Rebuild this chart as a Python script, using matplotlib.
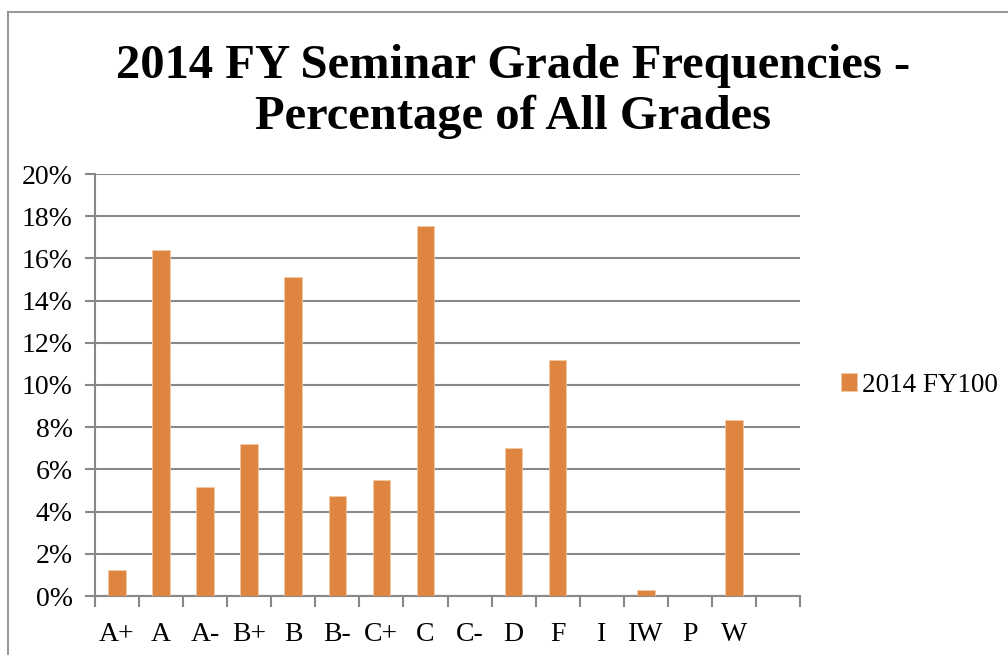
import numpy as np
import matplotlib
matplotlib.use("Agg")
import matplotlib.pyplot as plt
from matplotlib.lines import Line2D

# valores
grades = ["A+", "A", "A-", "B+", "B", "B-", "C+", "C", "C-", "D", "F", "I", "IW", "P", "W", ""]
pct = [1.25, 16.4, 5.15, 7.2, 15.1, 4.75, 5.5, 17.55, 0, 7.0, 11.2, 0, 0.3, 0, 8.35, 0]
yticks = [0, 2, 4, 6, 8, 10, 12, 14, 16, 18, 20]
series_name = "2014 FY100"
title = "2014 FY Seminar Grade Frequencies -\nPercentage of All Grades"

plt.rcParams['font.family'] = ['Liberation Serif', 'DejaVu Serif']
grid_col = "#888888"
bar_col = "#DD8541"

fig = plt.figure(figsize=(10.08, 6.55), dpi=100)
ax = fig.add_axes([95/1008, 59/655, 705/1008, 422/655])

x = np.arange(len(grades))
ax.bar(x, pct, width=0.4, color=bar_col, edgecolor="#F2C8A6", linewidth=0.6,
       label=series_name, zorder=3)

ax.set_xlim(-0.5, len(grades) - 0.5)
ax.set_ylim(0, 20)
ax.set_yticks(yticks)
ax.set_yticklabels([f"{v}%" for v in yticks])
ax.set_xticks(x)
ax.set_xticklabels(grades)
ax.set_xticks(np.arange(len(grades) + 1) - 0.5, minor=True)
ax.tick_params(axis="x", which="major", length=0, labelsize=20, pad=19)
ax.tick_params(axis="x", which="minor", length=8, width=1.5, color=grid_col)
ax.tick_params(axis="y", length=7, width=1.5, color=grid_col, labelsize=20, pad=9)
ax.yaxis.grid(True, color=grid_col, linewidth=1.5, zorder=0)
ax.set_axisbelow(True)
for s in ["top", "right"]:
    ax.spines[s].set_visible(False)
for s in ["left", "bottom"]:
    ax.spines[s].set_color(grid_col)
    ax.spines[s].set_linewidth(1.5)

fig.text(513/1008, 1 - 44/655, title, ha="center", va="top", fontsize=35,
         fontweight="bold", linespacing=1.2)

ax.legend(loc="center left", bbox_to_anchor=(1.023, 0.5), frameon=False, fontsize=19.5,
          handlelength=0.6, handleheight=0.6, handletextpad=0.2)

# marco del grafico (recortado)
fig.add_artist(Line2D([8/1008, 8/1008], [0, 1 - 12/655], color="#999999", lw=1.5))
fig.add_artist(Line2D([8/1008, 1], [1 - 12/655, 1 - 12/655], color="#999999", lw=1.5))

fig.savefig("out.png", dpi=100)
